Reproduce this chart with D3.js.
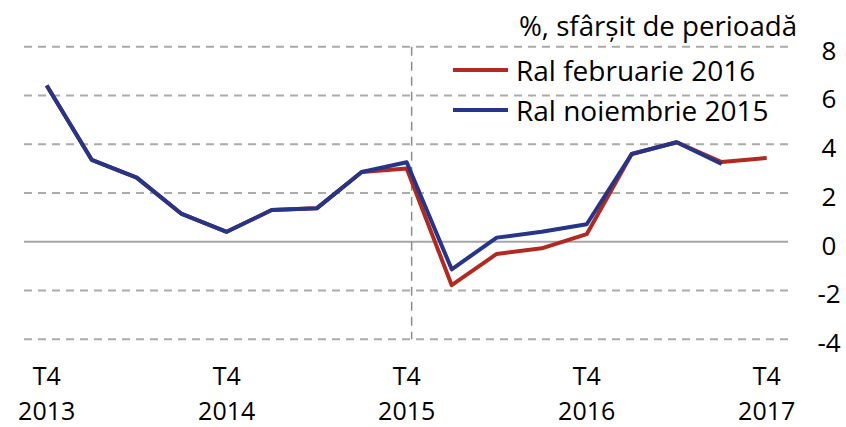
<!DOCTYPE html>
<html>
<head>
<meta charset="utf-8">
<script src="https://cdn.jsdelivr.net/npm/d3@7"></script>
<style>
  html, body { margin: 0; padding: 0; background: #fff; }
  svg text { font-family: "Open Sans", "Noto Sans", sans-serif; fill: #000; }
</style>
</head>
<body>
<svg id="chart" width="846" height="427"></svg>
<script>
// Quarterly periods, T4 2013 .. T4 2017
const quarters = ["T4 2013","T1 2014","T2 2014","T3 2014","T4 2014","T1 2015","T2 2015","T3 2015",
                  "T4 2015","T1 2016","T2 2016","T3 2016","T4 2016","T1 2017","T2 2017","T3 2017","T4 2017"];
// Inflation forecast, % end of period
const ralFeb2016 = [6.41, 3.36, 2.63, 1.14, 0.41, 1.30, 1.37, 2.86, 3.00, -1.78, -0.50, -0.27, 0.31, 3.60, 4.08, 3.27, 3.44];
const ralNov2015 = [6.41, 3.36, 2.63, 1.14, 0.41, 1.30, 1.37, 2.86, 3.26, -1.13, 0.17, 0.41, 0.72, 3.60, 4.08, 3.19, null];
const yTicks = [8, 6, 4, 2, 0, -2, -4];
const xTickLabels = [["T4","2013"],["T4","2014"],["T4","2015"],["T4","2016"],["T4","2017"]];
const xTickIdx = [0, 4, 8, 12, 16];
const seriesNames = ["Ral februarie 2016", "Ral noiembrie 2015"];
const seriesColors = ["#b3291f", "#25358a"];
const unitLabel = "%, sfârșit de perioadă";

const svg = d3.select("#chart");

const x = d3.scalePoint().domain(quarters).range([46.7, 766.7]);
const y = d3.scaleLinear().domain([-4, 8]).range([339.3, 46.7]);

const gridLeft = 24, gridRight = 788;

// horizontal gridlines
svg.append("g").selectAll("line")
  .data(yTicks.filter(d => d !== 0))
  .join("line")
  .attr("x1", gridLeft).attr("x2", gridRight)
  .attr("y1", d => y(d)).attr("y2", d => y(d))
  .attr("stroke", "#ababab").attr("stroke-width", 2)
  .attr("stroke-dasharray", "8,6");

// zero line
svg.append("line")
  .attr("x1", gridLeft).attr("x2", gridRight)
  .attr("y1", y(0)).attr("y2", y(0))
  .attr("stroke", "#a6a6a6").attr("stroke-width", 2);

// vertical separator after the last actual quarter
const step = x.step();
const sepX = x("T4 2015") + step * 0.11;
svg.append("line")
  .attr("x1", sepX).attr("x2", sepX)
  .attr("y1", y(8)).attr("y2", y(-4))
  .attr("stroke", "#8c8c8c").attr("stroke-width", 1.5)
  .attr("stroke-dasharray", "9,6");

// right-side y-axis labels
const yAxis = d3.axisRight(y).tickValues(yTicks).tickSize(0).tickPadding(0)
  .tickFormat(d => d < 0 ? "-" + Math.abs(d) : d);
const ya = svg.append("g").attr("transform", `translate(829,3)`).call(yAxis);
ya.select(".domain").remove();
ya.selectAll("text").attr("font-size", 26).attr("dy", "0.36em")
  .attr("text-anchor", "middle").style("font-family", null);

// x-axis labels (two lines)
const xa = svg.append("g");
xTickIdx.forEach((qi, i) => {
  const t = xa.append("text").attr("x", x(quarters[qi])).attr("text-anchor", "middle").attr("font-size", 25);
  t.append("tspan").attr("x", x(quarters[qi])).attr("y", 385).text(xTickLabels[i][0]);
  t.append("tspan").attr("x", x(quarters[qi])).attr("y", 420).text(xTickLabels[i][1]);
});

// series lines
const line = d3.line()
  .defined(d => d.v !== null)
  .x(d => x(d.q)).y(d => y(d.v));
[ralFeb2016, ralNov2015].forEach((vals, i) => {
  svg.append("path")
    .datum(vals.map((v, j) => ({q: quarters[j], v})))
    .attr("d", line)
    .attr("fill", "none")
    .attr("stroke", seriesColors[i])
    .attr("stroke-width", 4)
    .attr("stroke-linejoin", "round");
});

// unit label
svg.append("text").attr("x", 797).attr("y", 36).attr("text-anchor", "end")
  .attr("font-size", 28).attr("textLength", 278).attr("lengthAdjust", "spacingAndGlyphs")
  .text(unitLabel);

// legend
const legend = svg.append("g");
seriesNames.forEach((name, i) => {
  const ly = 70 + i * 40;
  legend.append("line").attr("x1", 453).attr("x2", 508).attr("y1", ly).attr("y2", ly)
    .attr("stroke", seriesColors[i]).attr("stroke-width", 4);
  legend.append("text").attr("x", 516).attr("y", ly + 11)
    .attr("font-size", 28).text(name);
});
</script>
</body>
</html>
